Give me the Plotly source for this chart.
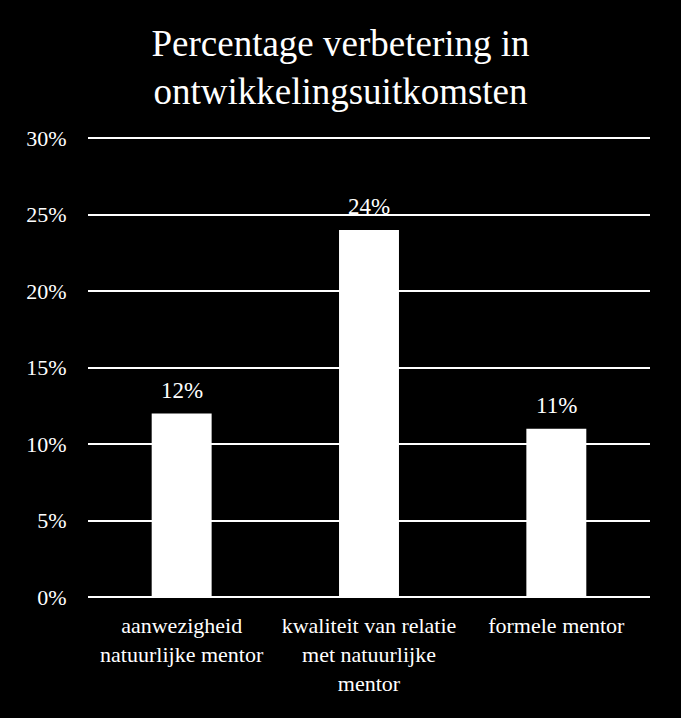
import plotly.graph_objects as go

categories = ["aanwezigheid<br>natuurlijke mentor",
              "kwaliteit van relatie<br>met natuurlijke<br>mentor",
              "formele mentor"]
values = [0.12, 0.24, 0.11]
labels = ["12%", "24%", "11%"]
tick_vals = [0, 0.05, 0.10, 0.15, 0.20, 0.25, 0.30]
tick_text = ["0%", "5%", "10%", "15%", "20%", "25%", "30%"]

FONT = "'Liberation Serif', 'DejaVu Serif', serif"

fig = go.Figure()
fig.add_trace(go.Bar(x=categories, y=values, marker=dict(color="white", line=dict(width=0)),
                     hoverinfo="skip"))

for c, v, t in zip(categories, values, labels):
    fig.add_annotation(x=c, y=v, text=t, showarrow=False, yanchor="bottom", yshift=9,
                       font=dict(family=FONT, size=23, color="white"))

fig.update_layout(
    width=681, height=718,
    paper_bgcolor="black", plot_bgcolor="black",
    margin=dict(l=88, r=31, t=136, b=121),
    bargap=0.68,
    showlegend=False,
    title=dict(text="Percentage verbetering in<br>ontwikkelingsuitkomsten",
               x=0.5, xanchor="center", y=0.922, yanchor="middle",
               font=dict(family=FONT, size=37, color="white")),
    font=dict(family=FONT, color="white"),
)
fig.update_yaxes(range=[0, 0.3015], tickvals=tick_vals, ticktext=tick_text,
                 showgrid=True, gridcolor="white", gridwidth=2,
                 zeroline=True, zerolinecolor="white", zerolinewidth=2,
                 ticks="outside", ticklen=16, tickcolor="black",
                 tickfont=dict(family=FONT, size=22, color="white"), showline=False)
fig.update_xaxes(showgrid=False, showline=False, ticks="outside", ticklen=9, tickcolor="black",
                 tickfont=dict(family=FONT, size=22, color="white"))

fig.write_html("out.html")
